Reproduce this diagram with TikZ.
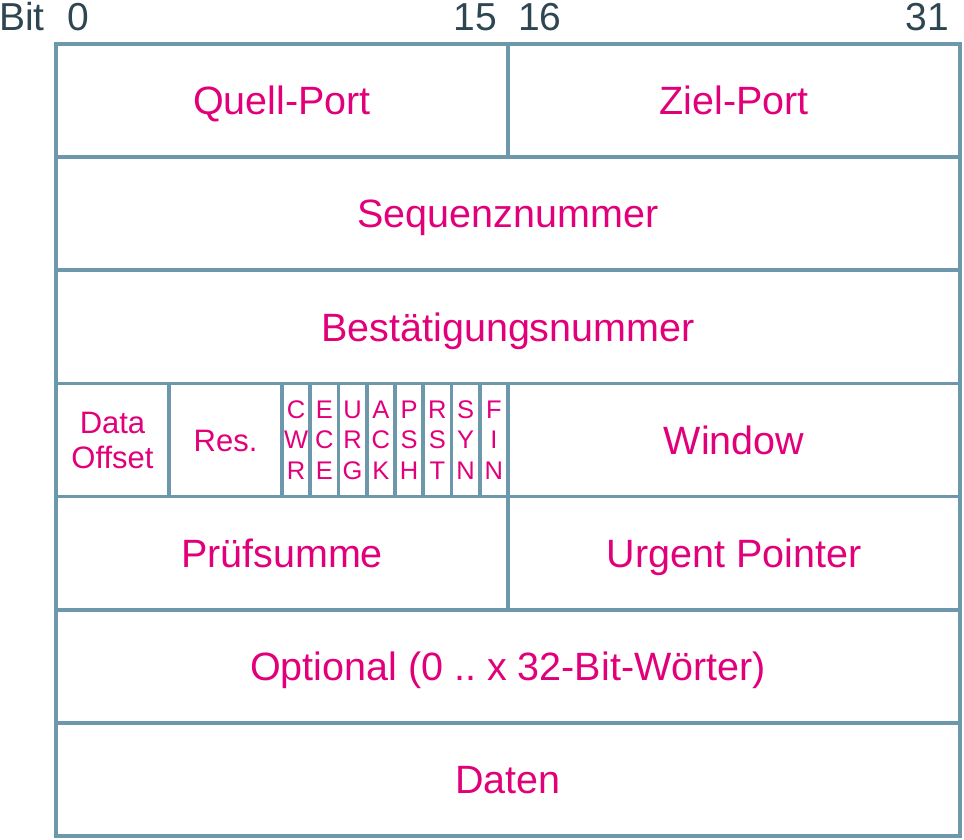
\documentclass[tikz,border=0pt]{standalone}
\usepackage{fontspec}
\setmainfont{Liberation Sans}
\frenchspacing
\definecolor{txtmag}{HTML}{E2007A}
\definecolor{linecol}{HTML}{6D97AA}
\definecolor{hdrcol}{HTML}{2E4552}
\begin{document}
\begin{tikzpicture}[x=1pt,y=-1pt,
  cell/.style={draw=linecol, line width=3.6pt, anchor=north west, inner sep=0pt, outer sep=0pt,
    text=txtmag, font=\fontsize{39.5}{45}\selectfont, align=center, minimum height=113.14pt},
  onecell/.style={cell, text height=28.3pt, text depth=0pt},
  smallcell/.style={cell, font=\fontsize{31}{35}\selectfont},
  flagcell/.style={cell, font=\fontsize{25.5}{30.5}\selectfont, minimum width=28.25pt},
  hdr/.style={text=hdrcol, font=\fontsize{39}{45}\selectfont, inner sep=0pt}]
\useasboundingbox (0,0) rectangle (964,840);
% header
\node[hdr] (bit) at (22,17) {Bit};
\node[hdr] (b0) at (78,17) {0};
\node[hdr, anchor=east] (b15) at (497,17) {15};
\node[hdr, anchor=west] (b16) at (518,17) {16};
\node[hdr, anchor=east] (b31) at (949,17) {31};
% row 1
\node[onecell, minimum width=452pt] (qp) at (56,44) {Quell-Port};
\node[onecell, minimum width=452pt] (zp) at (508,44) {Ziel-Port};
% row 2
\node[onecell, minimum width=904pt] (seq) at (56,157.14) {Sequenznummer};
% row 3
\node[onecell, minimum width=904pt] (ack) at (56,270.29) {Bestätigungsnummer};
% row 4
\node[smallcell, minimum width=113pt] (doff) at (56,383.43) {Data\\Offset};
\node[smallcell, minimum width=113pt, text height=22.2pt, text depth=0pt] (res) at (169,383.43) {Res.};
\foreach \i/\t in {0/{C\\W\\R},1/{E\\C\\E},2/{U\\R\\G},3/{A\\C\\K},4/{P\\S\\H},5/{R\\S\\T},6/{S\\Y\\N},7/{F\\I\\N}}
  \node[flagcell] (flag\i) at ({282+28.25*\i},383.43) {\t};
\node[onecell, minimum width=452pt] (win) at (508,383.43) {Window};
% row 5
\node[onecell, minimum width=452pt] (chk) at (56,496.57) {Prüfsumme};
\node[onecell, minimum width=452pt] (urg) at (508,496.57) {Urgent Pointer};
% row 6
\node[onecell, minimum width=904pt] (opt) at (56,609.71) {Optional (0 .. x 32-Bit-Wörter)};
% row 7
\node[onecell, minimum width=904pt] (dat) at (56,722.86) {Daten};
\end{tikzpicture}
\end{document}
